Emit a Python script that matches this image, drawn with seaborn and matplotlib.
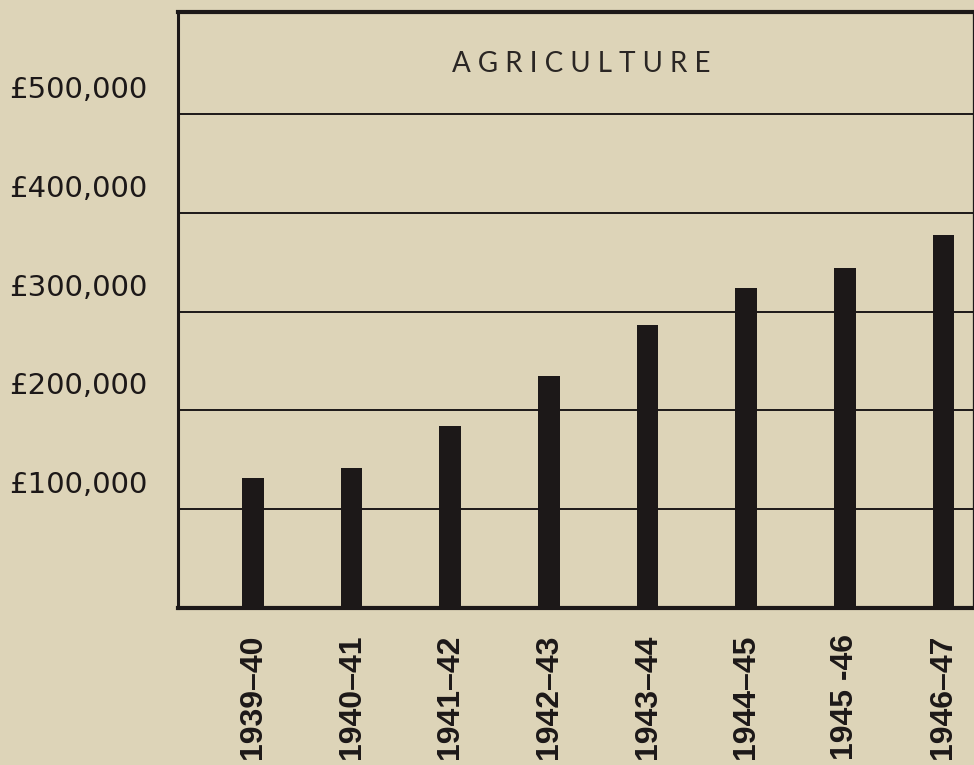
import matplotlib
matplotlib.use("Agg")
import matplotlib.pyplot as plt
import matplotlib.transforms as mtransforms
import seaborn as sns
import pandas as pd

# data
years = ["1939–40", "1940–41", "1941–42", "1942–43", "1943–44", "1944–45", "1945 -46", "1946–47"]
spending = [132000, 142000, 184000, 235000, 287000, 324000, 344000, 378000]
y_ticks = [100000, 200000, 300000, 400000, 500000]
y_labels = ["£100,000", "£200,000", "£300,000", "£400,000", "£500,000"]
title = "AGRICULTURE"

bg = "#ddd4b8"
ink = "#1c1818"

df = pd.DataFrame({"year": years, "amount": spending})

sns.set_theme(style="white")
plt.rcParams["font.family"] = ["DejaVu Sans"]

fig = plt.figure(figsize=(9.74, 7.65), dpi=100)
fig.patch.set_facecolor(bg)
ax = fig.add_axes([178 / 974, 1 - 608 / 765, 795 / 974, 596 / 765])
ax.set_facecolor(bg)

sns.barplot(data=df, x="year", y="amount", color=ink, saturation=1, width=0.22,
            edgecolor=ink, linewidth=0, ax=ax, zorder=3)

ax.set_xlim(-0.76, 7.30)
ax.set_ylim(0, 603500)

# horizontal rules
for v in y_ticks:
    ax.axhline(v, color=ink, lw=1.4, zorder=1)

ax.set_yticks(y_ticks)
ax.set_yticklabels(y_labels, fontsize=21, color=ink)
ax.tick_params(axis="y", length=0, pad=22)
shift = mtransforms.ScaledTranslation(0, 27 / 100, fig.dpi_scale_trans)
for lab in ax.get_yticklabels():
    lab.set_transform(lab.get_transform() + shift)

ax.set_xticks(range(len(years)))
ax.set_xticklabels(years, rotation=90, fontsize=23, fontweight="bold",
                   family=["Liberation Sans", "DejaVu Sans"], color=ink)
ax.tick_params(axis="x", length=0, pad=19)

ax.set_xlabel("")
ax.set_ylabel("")

for side, lw in [("top", 3.0), ("bottom", 3.0), ("left", 2.2), ("right", 0.9)]:
    ax.spines[side].set_visible(True)
    ax.spines[side].set_color(ink)
    ax.spines[side].set_linewidth(lw)

# widely tracked title, as in the original print
spaced = " ".join(title)
ax.text(0.507, 0.913, spaced, transform=ax.transAxes, ha="center", va="center",
        fontsize=20, color="#2a2624", fontweight="normal", family=["Lato", "DejaVu Sans"])

fig.savefig("out.png", dpi=100, facecolor=bg)
